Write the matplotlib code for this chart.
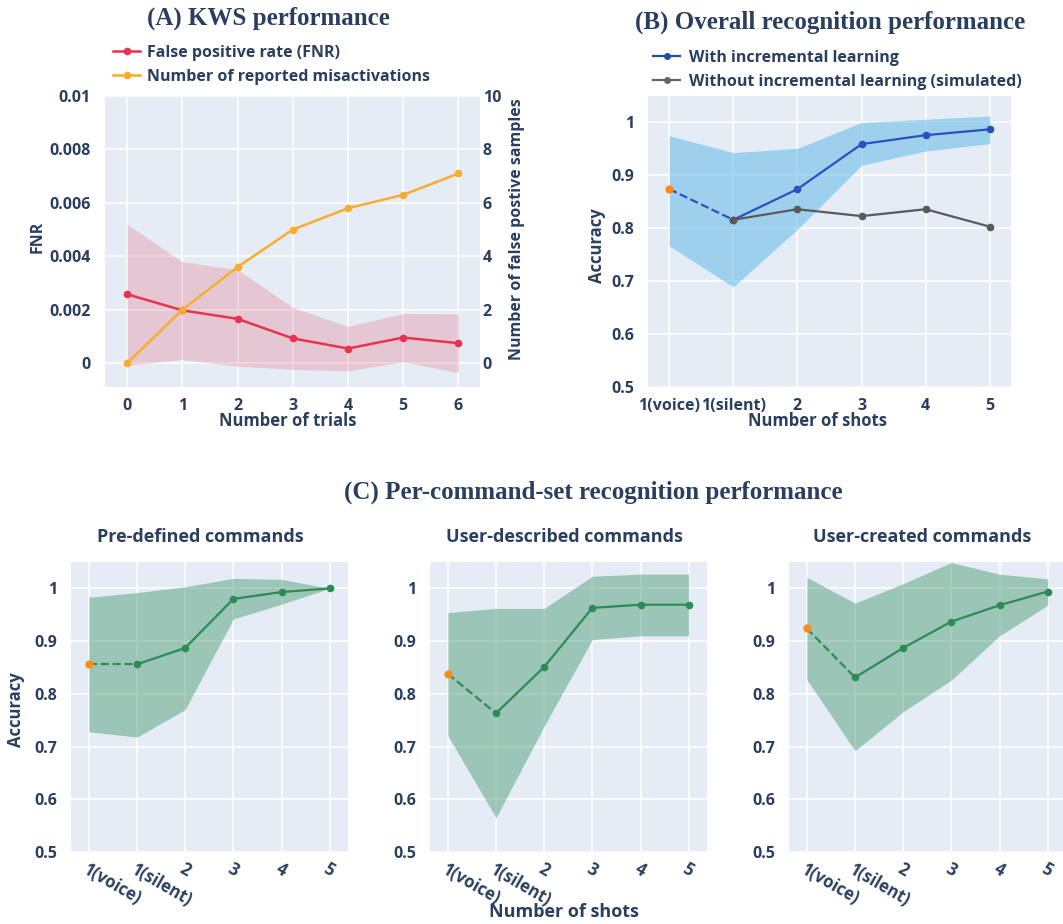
import numpy as np
import matplotlib.pyplot as plt
from matplotlib.lines import Line2D

plt.rcParams['font.family'] = ['Open Sans', 'DejaVu Sans']
plt.rcParams['font.weight'] = 'bold'
txt = '#2a3f5f'
bg = '#E5ECF6'
fsz = 11.5

# =============================================================================
# data
# =============================================================================
# (A) KWS performance
trials = [0, 1, 2, 3, 4, 5, 6]
fnr = [0.00258, 0.00198, 0.00166, 0.00093, 0.00055, 0.00096, 0.00075]
fnr_hi = [0.0052, 0.0038, 0.0035, 0.00209, 0.00138, 0.00186, 0.00185]
fnr_lo = [-0.000075, 0.00014, -0.00011, -0.00023, -0.00028, 0.00005, -0.00035]
misact = [0.0, 2.0, 3.6, 5.0, 5.8, 6.3, 7.1]

# (B) overall recognition
shot_labels = ['1(voice)', '1(silent)', '2', '3', '4', '5']
acc_inc = [0.874, 0.816, 0.874, 0.959, 0.976, 0.987]
acc_inc_hi = [0.975, 0.943, 0.951, 1.0, 1.006, 1.012]
acc_inc_lo = [0.767, 0.689, 0.798, 0.919, 0.946, 0.960]
acc_noinc = [0.816, 0.836, 0.823, 0.836, 0.803]   # starts at 1(silent)

# (C) per command set
pre_acc = [0.856, 0.856, 0.887, 0.980, 0.993, 1.0]
pre_hi = [0.983, 0.992, 1.003, 1.019, 1.017, 1.0]
pre_lo = [0.728, 0.718, 0.770, 0.942, 0.970, 1.0]

desc_acc = [0.838, 0.763, 0.851, 0.963, 0.969, 0.969]
desc_hi = [0.954, 0.962, 0.962, 1.023, 1.027, 1.027]
desc_lo = [0.721, 0.565, 0.739, 0.903, 0.910, 0.910]

crea_acc = [0.924, 0.831, 0.887, 0.937, 0.968, 0.994]
crea_hi = [1.021, 0.972, 1.009, 1.049, 1.027, 1.018]
crea_lo = [0.827, 0.692, 0.766, 0.826, 0.910, 0.968]

acc_ticks = [0.5, 0.6, 0.7, 0.8, 0.9, 1.0]
acc_ticklabels = ['0.5', '0.6', '0.7', '0.8', '0.9', '1']

W, H = 1063, 924


def px_axes(left, top, right, bottom):
    return fig.add_axes([left / W, 1 - bottom / H, (right - left) / W, (bottom - top) / H])


def style(ax):
    ax.set_facecolor(bg)
    for s in ax.spines.values():
        s.set_visible(False)
    ax.grid(color='white', linewidth=1.1)
    ax.set_axisbelow(True)
    ax.tick_params(length=0, labelsize=fsz, labelcolor=txt)


def ftext(x, y, s, **kw):
    kw.setdefault('ha', 'center')
    kw.setdefault('va', 'center')
    kw.setdefault('color', txt)
    fig.text(x / W, 1 - y / H, s, **kw)


fig = plt.figure(figsize=(W / 100, H / 100), dpi=100)

# =============================================================================
# (A)
# =============================================================================
ax1 = px_axes(105, 96, 480, 387)
style(ax1)
ax1.fill_between(trials, fnr_lo, fnr_hi, color='#e8334f', alpha=0.2, linewidth=0)
l_fnr, = ax1.plot(trials, fnr, '-o', color='#e8334f', lw=1.8, ms=4.5)
ax1.set_xlim(-0.4, 6.39)
ax1.set_ylim(-0.00089, 0.01)
ax1.set_xticks(trials)
ax1.set_yticks([0, 0.002, 0.004, 0.006, 0.008, 0.01])
ax1.set_yticklabels(['0', '0.002', '0.004', '0.006', '0.008', '0.01'])
ax1.tick_params(axis='y', pad=10)
ax1.tick_params(axis='x', pad=8)

ax1r = ax1.twinx()
for s in ax1r.spines.values():
    s.set_visible(False)
l_mis, = ax1r.plot(trials, misact, '-o', color='#f8ac30', lw=1.8, ms=4.5)
ax1r.set_ylim(-0.89, 10)
ax1r.set_yticks([0, 2, 4, 6, 8, 10])
ax1r.tick_params(length=0, labelsize=fsz, labelcolor=txt, pad=2)

fig.legend([l_fnr, l_mis], ['False positive rate (FNR)', 'Number of reported misactivations'],
           loc='center left', bbox_to_anchor=(113 / W, 1 - 65 / H), frameon=False,
           fontsize=fsz, labelcolor=txt, borderpad=0, borderaxespad=0,
           handlelength=1.7, handletextpad=0.45, labelspacing=0.5)

ftext(268, 18, '(A) KWS performance', family='Liberation Serif', weight='bold', size=18)
ftext(38, 237, 'FNR', rotation=90, size=fsz)
ftext(517, 229, 'Number of false postive samples', rotation=90, size=fsz)
ftext(288, 421, 'Number of trials', size=fsz + 0.5)

# =============================================================================
# (B)
# =============================================================================
xs = np.arange(len(shot_labels))
ax2 = px_axes(648, 96, 1011, 387)
style(ax2)
ax2.fill_between(xs, acc_inc_lo, acc_inc_hi, color='#5bb8e6', alpha=0.52, linewidth=0)
ax2.plot(xs[:2], acc_inc[:2], '--', color='#2b50c0', lw=1.6)
l_inc, = ax2.plot(xs[1:], acc_inc[1:], '-o', color='#2b50c0', lw=1.6, ms=4.5)
l_no, = ax2.plot(xs[1:], acc_noinc, '-o', color='#5a5a5a', lw=1.6, ms=4.5)
ax2.plot(xs[:1], acc_inc[:1], 'o', color='#ff8c1a', ms=5)
ax2.set_xlim(-0.33, 5.33)
ax2.set_ylim(0.5, 1.05)
ax2.set_xticks(xs)
ax2.set_xticklabels(shot_labels)
ax2.set_yticks(acc_ticks)
ax2.set_yticklabels(acc_ticklabels)
ax2.tick_params(axis='y', pad=10)
ax2.tick_params(axis='x', pad=8)

h_inc = Line2D([], [], color='#1f4e9e', marker='o', lw=1.6, ms=4)
h_no = Line2D([], [], color='#666666', marker='o', lw=1.6, ms=4)
fig.legend([h_inc, h_no], ['With incremental learning', 'Without incremental learning (simulated)'],
           loc='center left', bbox_to_anchor=(653 / W, 1 - 70 / H), frameon=False,
           fontsize=fsz, labelcolor=txt, borderpad=0, borderaxespad=0,
           handlelength=1.7, handletextpad=0.55, labelspacing=0.5)

ftext(830, 22, '(B) Overall recognition performance', family='Liberation Serif', weight='bold', size=18)
ftext(597, 246, 'Accuracy', rotation=90, size=fsz + 0.5)
ftext(818, 421, 'Number of shots', size=fsz + 0.5)

# =============================================================================
# (C)
# =============================================================================
ftext(593, 492, '(C) Per-command-set recognition performance', family='Liberation Serif',
      weight='bold', size=18)

panels = [
    (71, 'Pre-defined commands', 200, pre_acc, pre_hi, pre_lo),
    (430, 'User-described commands', 564, desc_acc, desc_hi, desc_lo),
    (789, 'User-created commands', 922, crea_acc, crea_hi, crea_lo),
]
for left, title, tx, acc, hi, lo in panels:
    ax = px_axes(left, 562, left + 277, 852)
    style(ax)
    ax.fill_between(xs, lo, hi, color='#2e8b57', alpha=0.4, linewidth=0)
    ax.plot(xs[:2], acc[:2], '--', color='#2e8b57', lw=1.6)
    ax.plot(xs[1:], acc[1:], '-o', color='#2e8b57', lw=1.6, ms=4.5)
    ax.plot(xs[:1], acc[:1], 'o', color='#ff8c1a', ms=5)
    ax.set_xlim(-0.37, 5.38)
    ax.set_ylim(0.5, 1.05)
    ax.set_xticks(xs)
    ax.set_xticklabels(shot_labels, rotation=-30, ha='left', va='top', rotation_mode='anchor')
    ax.set_yticks(acc_ticks)
    ax.set_yticklabels(acc_ticklabels)
    ax.tick_params(axis='y', pad=10)
    ax.tick_params(axis='x', pad=6, labelsize=fsz + 0.5)
    ftext(tx, 537, title, size=fsz + 1.5)

ftext(16, 710, 'Accuracy', rotation=90, size=fsz + 0.5)
ftext(564, 912, 'Number of shots', size=fsz + 1.5)

fig.savefig('out.png', dpi=100, facecolor='white')
